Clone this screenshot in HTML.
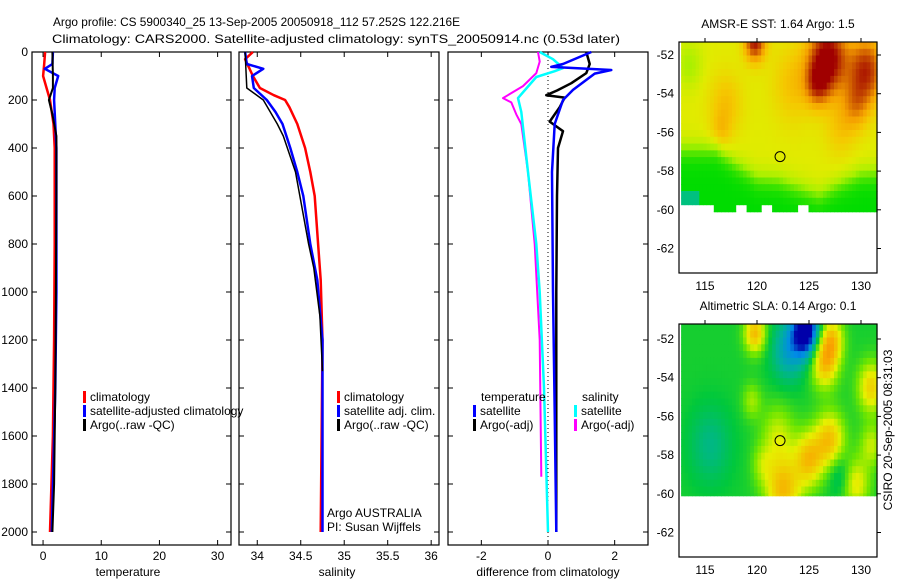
<!DOCTYPE html>
<html><head><meta charset="utf-8">
<style>
body{margin:0;background:#fff;width:900px;height:580px;overflow:hidden}
svg{display:block;font-family:"Liberation Sans",sans-serif;}
text{fill:#000;font-size:12px}
</style></head>
<body>
<svg id="chart" width="900" height="580" viewBox="0 0 900 580" xmlns="http://www.w3.org/2000/svg">
<text x="53" y="26" font-size="13.5" textLength="407" lengthAdjust="spacingAndGlyphs">Argo profile: CS 5900340_25 13-Sep-2005 20050918_112 57.252S 122.216E</text>
<text x="52" y="43" font-size="13.5" textLength="568" lengthAdjust="spacingAndGlyphs">Climatology: CARS2000. Satellite-adjusted climatology: synTS_20050914.nc (0.53d later)</text>
<g id="layer"></g>
</svg>
<script>
// ---------- data ----------
const depthTicks=[0,200,400,600,800,1000,1200,1400,1600,1800,2000];
const tempTicks=[0,10,20,30];
const salTicks=[34,34.5,35,35.5,36];
const salTickLabels=["34","34.5","35","35.5","36"];
const diffTicks=[-2,0,2];
// temperature
const tClimD=[0,50,100,200,300,400,800,1200,1600,2000];
const tClimV=[0.35,0.2,0.0,1.2,1.8,2.0,2.0,1.9,1.7,1.2];
const tSatD=[0,50,70,100,150,200,400,1000,1400,2000];
const tSatV=[1.7,1.6,0.3,2.6,2.0,1.9,2.3,2.3,2.1,1.5];
const tArgoD=[0,100,150,200,260,350,600,1000,1400,1800,2000];
const tArgoV=[1.6,1.7,1.7,1.0,1.6,2.3,2.3,2.2,2.1,1.9,1.6];
// salinity
const sClimD=[0,30,100,150,180,200,230,300,400,500,600,800,950,1200,2000];
const sClimV=[33.95,33.86,33.95,34.03,34.19,34.32,34.37,34.46,34.55,34.61,34.66,34.70,34.73,34.75,34.73];
const sSatD=[0,50,70,100,150,200,250,300,400,500,600,800,950,1200,2000];
const sSatV=[33.86,33.88,34.07,33.94,33.96,34.11,34.21,34.29,34.38,34.46,34.53,34.61,34.69,34.75,34.75];
const sArgoD=[0,150,200,250,300,350,500,800,900,1100,1330];
const sArgoV=[33.86,33.88,34.07,34.15,34.23,34.30,34.44,34.59,34.65,34.72,34.75];
// differences
const dTSatD=[0,50,62,75,90,158,200,300,500,1000,1500,2000];
const dTSatV=[1.3,0.45,0.1,1.9,1.4,0.75,0.45,0.2,0.12,0.15,0.2,0.25];
const dTArgoD=[0,50,88,130,160,180,190,230,260,290,330,400,600,1000,1500,2000];
const dTArgoV=[1.15,1.25,1.15,0.7,0.28,-0.05,0.5,0.35,0.2,0.05,0.45,0.3,0.27,0.25,0.25,0.25];
const dSSatD=[0,30,67,80,104,192,250,500,800,1000,1400,2000];
const dSSatV=[-0.25,0.15,0.45,0.2,-0.35,-0.9,-0.8,-0.6,-0.35,-0.25,-0.12,0.0];
const dSArgoD=[0,40,88,142,192,210,260,300,500,800,1200,1770];
const dSArgoV=[-0.3,-0.25,-0.35,-0.75,-1.35,-1.1,-0.95,-0.8,-0.6,-0.4,-0.25,-0.2];
// maps
const lonTicks=[115,120,125,130];
const latTicks=[-52,-54,-56,-58,-60,-62];
const floatLon=122.216, floatLat=-57.252;
const sstFrontLon=[112,116,118,120,122,124,126,128,130,132];
const sstFrontLat=[-56.8,-56.8,-57.6,-58.3,-58.4,-58.8,-59.2,-58.6,-58.1,-58.0];
const sstBlobs=[[126.8,-52.2,0.5,1.8],[125.8,-53.5,0.25,1.1],[130.5,-52.8,0.38,1.7],[129.5,-54.6,0.18,1.3],[119.8,-51.3,0.42,1.0],[123.5,-53.5,0.12,2.0],[117,-54.5,0.12,1.6],[116.5,-56,0.1,1.0],[128,-55.8,0.1,1.5],[113.5,-52.5,-0.1,1.2]];
const slaBlobs=[[124.7,-51.6,-0.45,1.3],[123,-52.6,-0.18,1.6],[119.8,-51.7,0.3,1.0],[126.5,-53.2,0.3,1.3],[127.2,-52.0,0.25,1.1],[131,-54.5,0.25,1.3],[122,-57.0,0.15,1.6],[125,-58.2,0.28,1.4],[127,-57.2,0.28,1.4],[122.5,-59.8,0.3,1.7],[129.5,-59.5,0.2,1.3],[119.5,-55.2,0.12,0.9],[115.5,-57.5,-0.1,2.0],[128,-59,-0.1,1.1],[131,-57.5,0.15,1.1],[120.5,-58.5,0.1,1.0]];

// ---------- helpers ----------
const NS="http://www.w3.org/2000/svg";
const layer=document.getElementById('layer');
function mk(tag,attrs,parent){const e=document.createElementNS(NS,tag);for(const k in attrs)e.setAttribute(k,attrs[k]);(parent||layer).appendChild(e);return e;}
function txt(x,y,s,anchor,size){const t=mk('text',{x:x,y:y,'text-anchor':anchor||'start','font-size':size||12});t.textContent=s;return t;}

const Y0=52, yScale=0.24, PT=52, PB=545;
const yD=d=>Y0+d*yScale;

function panel(name,x0,x1,xmin,xmax){
  const sx=v=>x0+(v-xmin)/(xmax-xmin)*(x1-x0);
  const f=mk('rect',{x:x0,y:PT,width:x1-x0,height:PB-PT,fill:'none',stroke:'#000','stroke-width':1.2});
  
  
  depthTicks.forEach(d=>{
    const t1=mk('line',{x1:x0,x2:x0+5,y1:yD(d),y2:yD(d),stroke:'#000'});
    
    
    const t2=mk('line',{x1:x1,x2:x1-5,y1:yD(d),y2:yD(d),stroke:'#000'});
    
    
  });
  return sx;
}
function tickX(name,sx,vals,labels){
  vals.forEach((v,i)=>{
    const x=sx(v);
    const a=mk('line',{x1:x,x2:x,y1:PB,y2:PB-5,stroke:'#000'});
    
    
    const b=mk('line',{x1:x,x2:x,y1:PT,y2:PT+5,stroke:'#000'});
    
    
    const t=txt(x,560,labels?labels[i]:String(v),'middle');
    
    
  });
}
function line(name,sx,D,V,color,w){
  const pts=D.map((d,i)=>sx(V[i]).toFixed(1)+','+yD(d).toFixed(1)).join(' ');
  const p=mk('polyline',{points:pts,fill:'none',stroke:color,'stroke-width':w||2,'stroke-linejoin':'round'});
  
  
}
function legend(name,x,y,color,label){
  const r=mk('rect',{x:x,y:y-10,width:3,height:12,fill:color});
  
  
  const t=txt(x+7,y,label);
  
  
}

depthTicks.forEach(d=>{const t=txt(28,yD(d)+4,String(d),'end');
  
  });

// panel 1 temperature
const sxT=panel('temperature-panel',32,231,-1.9,32.3);
tickX('temperature',sxT,tempTicks);
line('temp-climatology',sxT,tClimD,tClimV,'#f00',2.5);
line('temp-satellite',sxT,tSatD,tSatV,'#00f',2.5);
line('temp-argo',sxT,tArgoD,tArgoV,'#000',2);
let at=txt(128,576,'temperature','middle');


legend('legend-climatology',83,401,'#f00','climatology');
legend('legend-satellite-adjusted',83,415,'#00f','satellite-adjusted climatology');
legend('legend-argo',83,429,'#000','Argo(..raw -QC)');

// panel 2 salinity
const sxS=panel('salinity-panel',239,439,33.79,36.09);
tickX('salinity',sxS,salTicks,salTickLabels);
line('sal-climatology',sxS,sClimD,sClimV,'#f00',2.5);
line('sal-satellite',sxS,sSatD,sSatV,'#00f',2.5);
line('sal-argo',sxS,sArgoD,sArgoV,'#000',1.5);
at=txt(337,576,'salinity','middle');


legend('legend-sal-climatology',337,401,'#f00','climatology');
legend('legend-sal-satellite',337,415,'#00f','satellite adj. clim.');
legend('legend-sal-argo',337,429,'#000','Argo(..raw -QC)');
at=txt(327,517,'Argo AUSTRALIA');


at=txt(327,531,'PI: Susan Wijffels');



// panel 3 differences
const sxD=panel('difference-panel',448,648,-3,3);
tickX('difference',sxD,diffTicks);
const zl=mk('line',{x1:sxD(0),x2:sxD(0),y1:PT,y2:PB,stroke:'#000','stroke-dasharray':'1,3'});


line('diff-sal-argo',sxD,dSArgoD,dSArgoV,'#f0f',2);
line('diff-sal-satellite',sxD,dSSatD,dSSatV,'#0ff',2.5);
line('diff-temp-argo',sxD,dTArgoD,dTArgoV,'#000',2.5);
line('diff-temp-satellite',sxD,dTSatD,dTSatV,'#00f',2.5);
at=txt(548,576,'difference from climatology','middle');


at=txt(481,401,'temperature');


at=txt(582,401,'salinity');


legend('legend-diff-temp-sat',473,415,'#00f','satellite');
legend('legend-diff-temp-argo',473,429,'#000','Argo(-adj)');
legend('legend-diff-sal-sat',574,415,'#0ff','satellite');
legend('legend-diff-sal-argo',574,429,'#f0f','Argo(-adj)');

// ---------- maps ----------
function interp(xs,ys,x){if(x<=xs[0])return ys[0];for(let i=1;i<xs.length;i++){if(x<=xs[i]){const t=(x-xs[i-1])/(xs[i]-xs[i-1]);return ys[i-1]+t*(ys[i]-ys[i-1]);}}return ys[ys.length-1];}
function cmap(stops,v){v=Math.max(0,Math.min(1,v));for(let i=1;i<stops.length;i++){if(v<=stops[i][0]){const a=stops[i-1],b=stops[i],t=(v-a[0])/(b[0]-a[0]);return 'rgb('+[1,2,3].map(k=>Math.round(a[k]+t*(b[k]-a[k]))).join(',')+')';}}const s=stops[stops.length-1];return 'rgb('+s[1]+','+s[2]+','+s[3]+')';}
const sstStops=[[0,0,200,200],[0.15,0,190,90],[0.3,0,220,0],[0.45,170,240,0],[0.55,225,235,0],[0.65,245,200,0],[0.75,245,160,0],[0.87,200,80,0],[1,160,0,0]];
const slaStops=[[0,0,0,170],[0.12,0,140,230],[0.25,0,180,150],[0.35,0,200,60],[0.45,110,230,0],[0.55,230,240,0],[0.72,250,165,0],[1,220,80,0]];
function blobSum(bl,lon,lat){let s=0;bl.forEach(b=>{const d2=((lon-b[0])**2+(lat-b[1])**2)/(b[3]*b[3]);s+=b[2]*Math.exp(-d2);});return s;}

function drawMap(name,top,bottom,lat0y,title,field,stops){
  const x0=679,x1=877;
  const sx=lon=>705+(lon-115)*10.4;
  const sy=lat=>lat0y+(-52-lat)*19.35;
  const g=mk('g',{});
  
  
  const step=0.35;
  const latTop=-52-(top-lat0y)/19.35;
  for(let lat=latTop;lat>-60.1;lat-=step){
    for(let lon=112.7;lon<131.6;lon+=step){
      const v=field(lon+step/2,lat-step/2);
      if(v===null)continue;
      const x=sx(lon),y=sy(lat);
      const w=Math.min(sx(lon+step),x1)-x, h=Math.min(sy(Math.max(lat-step,-60.1)),bottom)-y;
      if(w<=0||h<=0)continue;
      const c=mk('rect',{x:x.toFixed(1),y:y.toFixed(1),width:(w+0.6).toFixed(1),height:(h+0.6).toFixed(1),fill:cmap(stops,v)},g);
      
      
    }
  }
  const f=mk('rect',{x:x0,y:top,width:x1-x0,height:bottom-top,fill:'none',stroke:'#000','stroke-width':1.2});
  
  
  lonTicks.forEach(l=>{
    const a=mk('line',{x1:sx(l),x2:sx(l),y1:top,y2:top-4,stroke:'#000'});
    
    
    const t=txt(sx(l),bottom+17,String(l),'middle');
    
    
  });
  latTicks.forEach(l=>{
    const a=mk('line',{x1:x1,x2:x1+4,y1:sy(l),y2:sy(l),stroke:'#000'});
    
    
    const t=txt(674,sy(l)+4,String(l),'end');
    
    
  });
  const c=mk('circle',{cx:sx(floatLon),cy:sy(floatLat),r:5,fill:'none',stroke:'#000'});
  
  
  const t=txt(778,top-14,title,'middle');
  
  
}
drawMap('sst-map',42,273,55,'AMSR-E SST: 1.64 Argo: 1.5',(lon,lat)=>{
  if(lat<-59.3&&((lon>114.5&&lon<115.8)||(lon>117.8&&lon<119)||(lon>120.5&&lon<121.5)||(lon>124&&lon<124.8))){if(lat<-59.6)return null;}
  if(lat<-59.3&&lon<114.5&&lat<-59.9)return null;
  const fr=interp(sstFrontLon,sstFrontLat,lon);
  let v=0.55+blobSum(sstBlobs,lon,lat);
  const t=1/(1+Math.exp((lat-fr)*3));
  v=v*(1-t)+0.3*t;
  if(lon<114.5&&lat<-59)v=0.1;
  return v;
},sstStops);
drawMap('sla-map',324,557,339,'Altimetric SLA: 0.14 Argo: 0.1',(lon,lat)=>0.37+blobSum(slaBlobs,lon,lat),slaStops);

const cs=txt(0,0,'CSIRO 20-Sep-2005 08:31:03','middle',12);
cs.setAttribute('transform','translate(892,430) rotate(-90)');


</script>
</body></html>
